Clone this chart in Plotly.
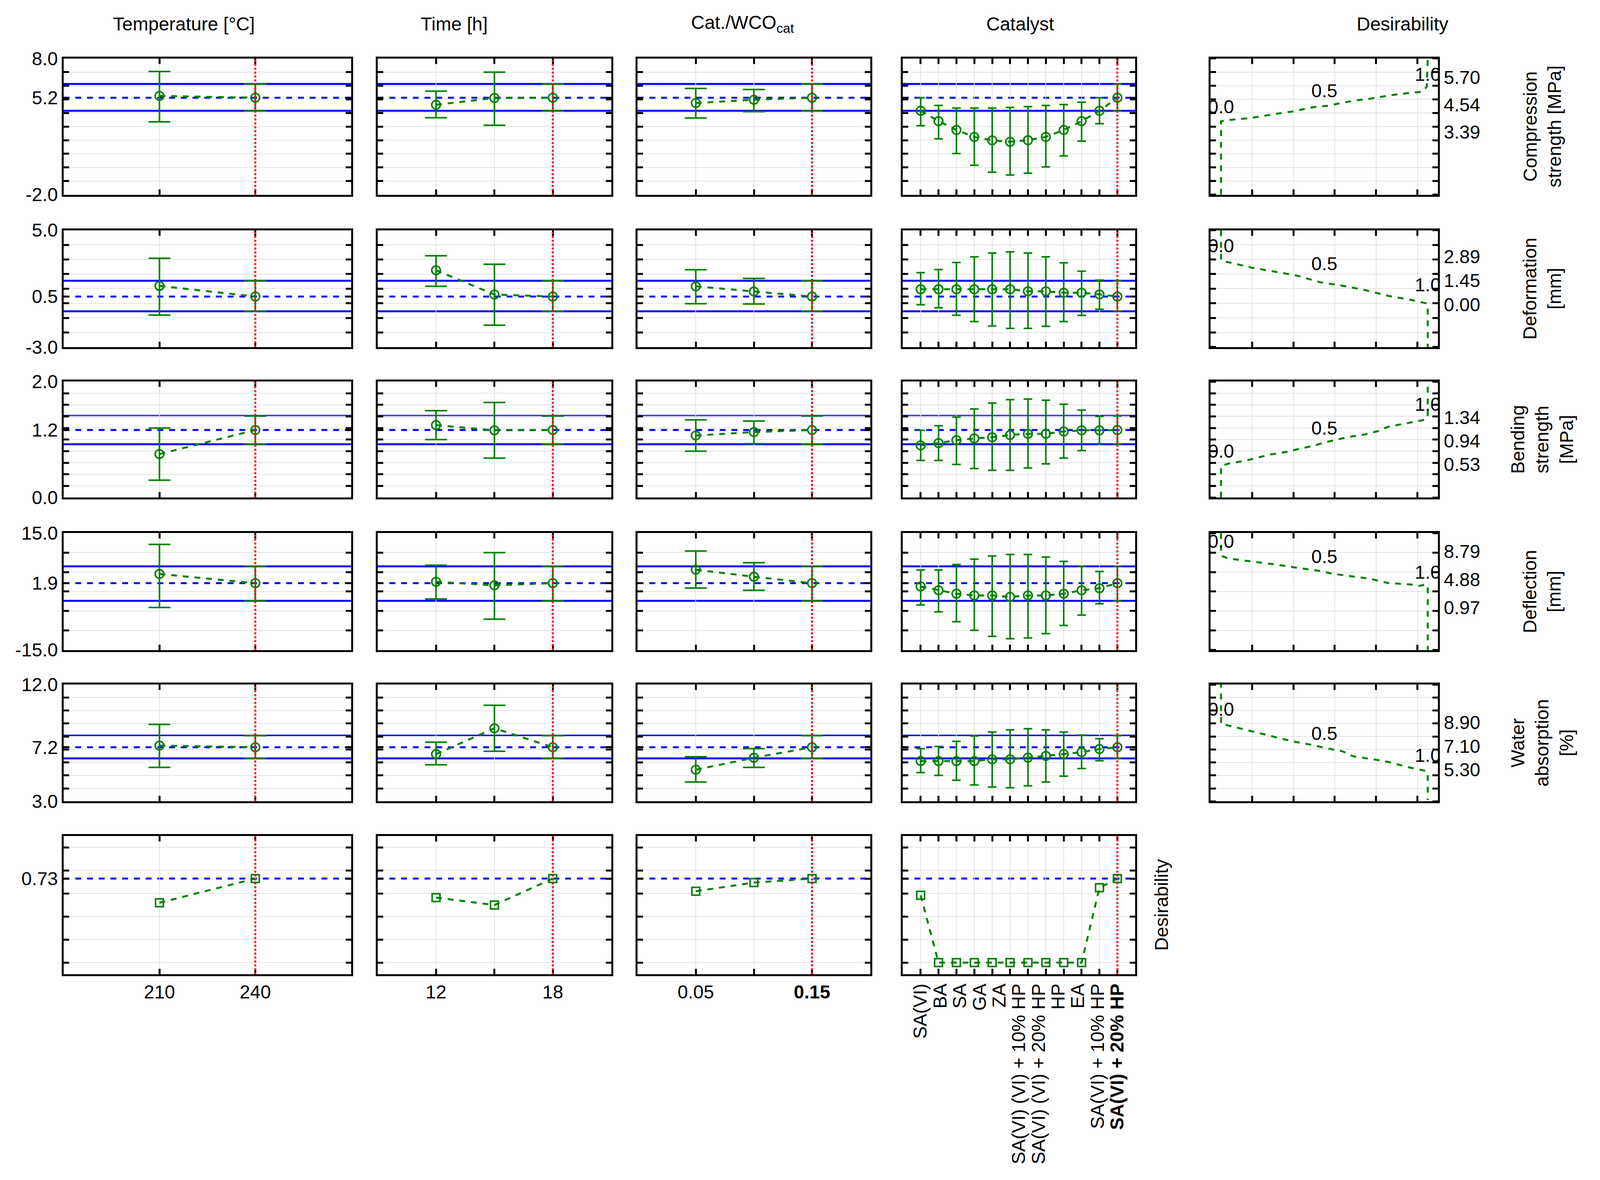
import plotly.graph_objects as go

# ---------------- data ----------------
temp_levels = [210, 240]
time_levels = [12, 15, 18]
cat_levels = [0.05, 0.10, 0.15]
catalyst_pos = list(range(1, 13))
catalyst_labels = ["SA(VI)", "BA", "SA", "GA", "ZA", "SA(VI) (VI) + 10% HP", "SA(VI) (VI) + 20% HP",
                   "HP", "EA", "SA(VI) + 10% HP", "<b>SA(VI) + 20% HP</b>"]

responses = ["Compression<br>strength [MPa]", "Deformation<br>[mm]", "Bending<br>strength<br>[MPa]",
             "Deflection<br>[mm]", "Water<br>absorption<br>[%]"]

# confidence limits at optimum (hi, pred, lo)
comp_lim = [6.13, 5.12, 4.16]
comp_temp = [5.25, 5.12]; comp_temp_hi = [7.05, 6.13]; comp_temp_lo = [3.35, 4.16]
comp_time = [4.6, 5.1, 5.12]; comp_time_hi = [5.6, 7.0, 6.13]; comp_time_lo = [3.65, 3.1, 4.16]
comp_cat = [4.73, 4.97, 5.12]; comp_cat_hi = [5.8, 5.72, 6.13]; comp_cat_lo = [3.63, 4.1, 4.16]
comp_cl = [4.16, 3.40, 2.75, 2.24, 1.99, 1.88, 2.0, 2.24, 2.75, 3.40, 4.16, 5.12]
comp_cl_hi = [5.12, 4.55, 4.36, 4.36, 4.36, 4.40, 4.47, 4.55, 4.62, 4.79, 5.12, 6.13]
comp_cl_lo = [3.06, 2.10, 1.02, 0.16, -0.35, -0.56, -0.42, 0.04, 0.85, 1.93, 3.21, 4.16]

def_lim = [1.54, 0.46, -0.55]
def_temp = [1.19, 0.46]; def_temp_hi = [3.08, 1.54]; def_temp_lo = [-0.81, -0.55]
def_time = [2.26, 0.6, 0.46]; def_time_hi = [3.25, 2.67, 1.54]; def_time_lo = [1.16, -1.5, -0.55]
def_cat = [1.16, 0.81, 0.46]; def_cat_hi = [2.3, 1.7, 1.54]; def_cat_lo = [-0.03, -0.05, -0.55]
def_cl = [0.96, 0.96, 0.96, 0.96, 0.96, 0.96, 0.82, 0.82, 0.72, 0.72, 0.61, 0.46]
def_cl_hi = [2.10, 2.31, 2.79, 3.18, 3.44, 3.52, 3.44, 3.18, 2.77, 2.20, 1.59, 1.54]
def_cl_lo = [-0.10, -0.31, -0.82, -1.25, -1.55, -1.72, -1.72, -1.58, -1.25, -0.83, -0.41, -0.55]

ben_lim = [1.41, 1.165, 0.92]
ben_temp = [0.75, 1.165]; ben_temp_hi = [1.2, 1.41]; ben_temp_lo = [0.3, 0.92]
ben_time = [1.25, 1.16, 1.165]; ben_time_hi = [1.5, 1.64, 1.41]; ben_time_lo = [1.0, 0.68, 0.92]
ben_cat = [1.07, 1.13, 1.165]; ben_cat_hi = [1.34, 1.32, 1.41]; ben_cat_lo = [0.8, 0.93, 0.92]
ben_cl = [0.90, 0.94, 0.99, 1.02, 1.04, 1.08, 1.10, 1.10, 1.14, 1.16, 1.16, 1.165]
ben_cl_hi = [1.16, 1.24, 1.39, 1.53, 1.63, 1.69, 1.70, 1.68, 1.61, 1.51, 1.40, 1.41]
ben_cl_lo = [0.64, 0.64, 0.57, 0.50, 0.47, 0.47, 0.51, 0.58, 0.68, 0.81, 0.93, 0.92]

dfl_lim = [6.45, 2.15, -2.4]
dfl_temp = [4.5, 2.15]; dfl_temp_hi = [12.1, 6.45]; dfl_temp_lo = [-4.1, -2.4]
dfl_time = [2.5, 1.6, 2.15]; dfl_time_hi = [6.75, 10.0, 6.45]; dfl_time_lo = [-1.9, -7.1, -2.4]
dfl_cat = [5.6, 3.8, 2.15]; dfl_cat_hi = [10.4, 7.4, 6.45]; dfl_cat_lo = [0.9, 0.33, -2.4]
dfl_cl = [1.30, 0.33, -0.56, -1.0, -1.0, -1.37, -1.0, -1.0, -0.56, 0.33, 0.85, 2.15]
dfl_cl_hi = [5.52, 5.52, 6.93, 8.3, 9.15, 9.52, 9.52, 8.85, 7.74, 6.41, 5.15, 6.45]
dfl_cl_lo = [-3.44, -5.22, -7.74, -9.96, -11.5, -12.1, -11.9, -10.8, -8.7, -6.04, -3.15, -2.4]

wat_lim = [8.06, 7.17, 6.31]
wat_temp = [7.3, 7.17]; wat_temp_hi = [8.93, 8.06]; wat_temp_lo = [5.62, 6.31]
wat_time = [6.64, 8.63, 7.17]; wat_time_hi = [7.56, 10.4, 8.06]; wat_time_lo = [5.82, 6.86, 6.31]
wat_cat = [5.44, 6.36, 7.17]; wat_cat_hi = [6.44, 7.06, 8.06]; wat_cat_lo = [4.49, 5.62, 6.31]
wat_cl = [6.11, 6.11, 6.11, 6.11, 6.24, 6.24, 6.37, 6.50, 6.64, 6.79, 7.03, 7.17]
wat_cl_hi = [7.06, 7.23, 7.63, 8.03, 8.34, 8.51, 8.60, 8.51, 8.34, 8.11, 7.83, 8.06]
wat_cl_lo = [5.22, 5.0, 4.63, 4.27, 4.1, 4.05, 4.2, 4.49, 4.94, 5.53, 6.13, 6.31]

des_pred = 0.73
des_temp = [0.52, 0.73]
des_time = [0.565, 0.50, 0.73]
des_cat = [0.62, 0.695, 0.73]
des_cl = [0.585, 0, 0, 0, 0, 0, 0, 0, 0, 0, 0.65, 0.73]

# desirability profiles (desirability, response value)
comp_prof_d = [0, 0, 0.035, 0.146, 0.256, 0.344, 0.443, 0.526, 0.553, 0.642, 0.719, 0.829, 0.917, 0.972, 0.995, 1.0]
comp_prof_v = [0.74, 3.84, 3.89, 3.98, 4.14, 4.25, 4.43, 4.50, 4.56, 4.71, 4.79, 4.95, 5.04, 5.08, 5.29, 6.49]
def_prof_d = [0, 0, 0.146, 0.256, 0.366, 0.476, 0.587, 0.697, 0.807, 0.917, 0.995, 1.0, 1.0]
def_prof_v = [4.46, 2.65, 2.23, 1.99, 1.75, 1.36, 1.14, 0.88, 0.54, 0.30, 0.08, 0.0, -2.53]
ben_prof_d = [0, 0, 0.035, 0.123, 0.234, 0.32, 0.366, 0.454, 0.5, 0.61, 0.697, 0.763, 0.807, 0.917, 0.983, 1.0, 1.0]
ben_prof_v = [-0.04, 0.505, 0.545, 0.60, 0.70, 0.75, 0.79, 0.86, 0.91, 1.0, 1.05, 1.11, 1.18, 1.25, 1.30, 1.34, 1.96]
dfl_prof_d = [0, 0, 0.035, 0.146, 0.256, 0.366, 0.476, 0.54, 0.64, 0.72, 0.807, 0.917, 0.956, 0.995, 1.0, 1.0]
dfl_prof_v = [11.35, 8.21, 7.81, 7.41, 7.01, 6.53, 6.09, 5.69, 5.28, 5.0, 4.4, 4.2, 4.0, 4.2, 4.0, -4.92]
wat_prof_d = [0, 0, 0.035, 0.146, 0.256, 0.344, 0.454, 0.5, 0.587, 0.64, 0.75, 0.81, 0.917, 0.995, 1.0, 1.0]
wat_prof_v = [12.0, 8.79, 8.68, 8.25, 7.81, 7.48, 7.16, 6.98, 6.72, 6.33, 6.07, 5.9, 5.46, 5.2, 5.1, 3.0]

prof_ranges = [[0.74, 6.49], [-2.53, 4.46], [-0.04, 1.96], [-4.92, 11.35], [2.9, 11.8]]
prof_ticks = [[5.70, 4.54, 3.39], [2.89, 1.45, 0.00], [1.34, 0.94, 0.53], [8.79, 4.88, 0.97], [8.90, 7.10, 5.30]]
prof_nint = [10, 8, 10, 6, 9]
prof_label_y = [[4.37, 5.05, 5.74], [3.43, 2.35, 1.09], [0.73, 1.13, 1.54], [9.94, 7.81, 5.68], [9.77, 7.95, 6.27]]

row_ranges = [[-2, 8], [-3, 5], [0, 2], [-15, 15], [3, 12], [-0.1, 1.1]]
row_dtick = [1, 1, 0.2, 5, 1, 0.2]
row_tick0 = [-2, -3, 0, -15, 3, 0]
row_tickvals = [[8, 5.12, -2], [5, 0.46, -3], [2, 1.165, 0], [15, 2.15, -15], [12, 7.17, 3], [0.73]]
row_ticktext = [["8.0", "5.2", "-2.0"], ["5.0", "0.5", "-3.0"], ["2.0", "1.2", "0.0"],
                ["15.0", "1.9", "-15.0"], ["12.0", "7.2", "3.0"], ["0.73"]]

col_titles = ["Temperature [°C]", "Time [h]", "Cat./WCO<sub>cat</sub>", "Catalyst", "Desirability"]
opt_x = [240, 18, 0.15, 12]

# ---------------- layout ----------------
FW, FH = 4100, 3005
S = 4117 / 1568.0
def px(x):  # reference display x -> paper fraction (with empirical correction)
    x = (x + 0.4) / 1.0059
    return (x * S - 8) / FW
def py(y):
    y = (y - 6.5) / 0.991
    return 1 - (y * S - 8) / FH

col_px = [(62, 344), (370, 599), (625, 853), (885, 1113), (1187, 1410)]
row_px = [(54, 188), (223, 338), (372, 486), (521, 636), (670, 785), (819, 955)]
GREEN = "#008000"; BLUE = "#0000ff"; RED = "#ff0000"
FONT = "Liberation Sans"
FS = 48

fig = go.Figure()
layout = dict(width=FW, height=FH, paper_bgcolor="white", plot_bgcolor="white",
              margin=dict(l=0, r=0, t=0, b=0), showlegend=False,
              font=dict(family=FONT, size=FS, color="black"))
shapes = []
annotations = []

tick_kw = dict(ticks="inside", ticklen=14, tickwidth=5, tickcolor="black")
grid_kw = dict(showgrid=True, gridcolor="#e3e3e3", gridwidth=2)
line_kw = dict(showline=True, linewidth=5, linecolor="black", mirror="ticks", zeroline=False)

x_major = [
    (temp_levels, ["210", "240"], [], [180, 270]),
    ([12, 18], ["12", "18"], [15], [9, 21]),
    ([0.05, 0.15], ["0.05", "<b>0.15</b>"], [0.10], [0.0, 0.2]),
    ([1 + i * 1.1 for i in range(11)], catalyst_labels, catalyst_pos, [0, 13]),
]

data_rows = [
    [(comp_temp, comp_temp_hi, comp_temp_lo), (comp_time, comp_time_hi, comp_time_lo),
     (comp_cat, comp_cat_hi, comp_cat_lo), (comp_cl, comp_cl_hi, comp_cl_lo), comp_lim],
    [(def_temp, def_temp_hi, def_temp_lo), (def_time, def_time_hi, def_time_lo),
     (def_cat, def_cat_hi, def_cat_lo), (def_cl, def_cl_hi, def_cl_lo), def_lim],
    [(ben_temp, ben_temp_hi, ben_temp_lo), (ben_time, ben_time_hi, ben_time_lo),
     (ben_cat, ben_cat_hi, ben_cat_lo), (ben_cl, ben_cl_hi, ben_cl_lo), ben_lim],
    [(dfl_temp, dfl_temp_hi, dfl_temp_lo), (dfl_time, dfl_time_hi, dfl_time_lo),
     (dfl_cat, dfl_cat_hi, dfl_cat_lo), (dfl_cl, dfl_cl_hi, dfl_cl_lo), dfl_lim],
    [(wat_temp, wat_temp_hi, wat_temp_lo), (wat_time, wat_time_hi, wat_time_lo),
     (wat_cat, wat_cat_hi, wat_cat_lo), (wat_cl, wat_cl_hi, wat_cl_lo), wat_lim],
]
profiles = [(comp_prof_d, comp_prof_v), (def_prof_d, def_prof_v), (ben_prof_d, ben_prof_v),
            (dfl_prof_d, dfl_prof_v), (wat_prof_d, wat_prof_v)]
xs_all = [temp_levels, time_levels, cat_levels, catalyst_pos]
des_all = [des_temp, des_time, des_cat, des_cl]

for r in range(6):
    for c in range(5):
        if r == 5 and c == 4:
            continue
        k = r * 5 + c + 1
        xa = "xaxis" if k == 1 else f"xaxis{k}"
        ya = "yaxis" if k == 1 else f"yaxis{k}"
        xr = "x" if k == 1 else f"x{k}"
        yr = "y" if k == 1 else f"y{k}"
        x0, x1 = col_px[c]; y0, y1 = row_px[r]
        xd = [px(x0), px(x1)]; yd = [py(y1), py(y0)]
        if c < 4:
            tv, tt, mv, rng = x_major[c]
            xcfg = dict(line_kw, **tick_kw, **grid_kw, domain=xd, anchor=yr, range=rng,
                        tickmode="array", tickvals=tv, ticktext=tt,
                        showticklabels=(r == 5), tickfont=dict(size=FS))
            if mv:
                xcfg["minor"] = dict(tickmode="array", tickvals=mv, **tick_kw, **grid_kw)
            if c == 3:
                xcfg["tickangle"] = -90
                xcfg["ticks"] = ""
                xcfg["showgrid"] = False
            ycfg = dict(line_kw, **tick_kw, domain=yd, anchor=xr, range=row_ranges[r], tickmode="array",
                        tickvals=row_tickvals[r], ticktext=row_ticktext[r],
                        showticklabels=(c == 0), showgrid=False,
                        minor=dict(tickmode="linear", tick0=row_tick0[r], dtick=row_dtick[r],
                                   **tick_kw, **grid_kw))
            layout[xa] = xcfg; layout[ya] = ycfg
            xs = xs_all[c]
            if r < 5:
                vals, hi, lo = data_rows[r][c]
                lim = data_rows[r][4]
                for yy, dash in [(lim[0], "solid"), (lim[1], "dash"), (lim[2], "solid")]:
                    shapes.append(dict(type="line", xref=f"{xr} domain", yref=yr, x0=0, x1=1, y0=yy, y1=yy,
                                       line=dict(color=BLUE, width=5, dash=dash), layer="below"))
                fig.add_trace(go.Scatter(
                    x=xs, y=vals, xaxis=xr, yaxis=yr, mode="lines+markers",
                    line=dict(color=GREEN, width=5, dash="dash"),
                    marker=dict(symbol="circle-open", size=22, color=GREEN, line=dict(width=4)),
                    error_y=dict(type="data", symmetric=False,
                                 array=[h - v for h, v in zip(hi, vals)],
                                 arrayminus=[v - l for v, l in zip(vals, lo)],
                                 color=GREEN, thickness=4, width=(28 if c < 3 else 11))))
            else:
                shapes.append(dict(type="line", xref=f"{xr} domain", yref=yr, x0=0, x1=1, y0=des_pred, y1=des_pred,
                                   line=dict(color=BLUE, width=5, dash="dash"), layer="below"))
                fig.add_trace(go.Scatter(
                    x=xs, y=des_all[c], xaxis=xr, yaxis=yr, mode="lines+markers",
                    line=dict(color=GREEN, width=5, dash="dash"),
                    marker=dict(symbol="square-open", size=20, color=GREEN, line=dict(width=4))))
            shapes.append(dict(type="line", xref=xr, yref=f"{yr} domain", x0=opt_x[c], x1=opt_x[c], y0=0, y1=1,
                               line=dict(color=RED, width=5, dash="dot"), layer="above"))
        else:
            rng = prof_ranges[r]
            xcfg = dict(line_kw, **tick_kw, **grid_kw, domain=xd, anchor=yr, range=[-0.05, 1.05],
                        tickmode="linear", tick0=-0.05, dtick=0.2, showticklabels=False)
            ycfg = dict(line_kw, domain=yd, anchor=xr, range=rng, side="right", tickmode="array",
                        tickvals=prof_ticks[r], ticktext=[f"{v:.2f}" for v in prof_ticks[r]],
                        ticks="", showgrid=False, tickfont=dict(size=FS),
                        minor=dict(tickmode="linear", tick0=rng[0], dtick=(rng[1] - rng[0]) / prof_nint[r],
                                   **tick_kw, **grid_kw))
            layout[xa] = xcfg; layout[ya] = ycfg
            d, v = profiles[r]
            fig.add_trace(go.Scatter(x=d, y=v, xaxis=xr, yaxis=yr, mode="lines",
                                     line=dict(color=GREEN, width=5, dash="dash")))
            fig.add_trace(go.Scatter(x=[0.0, 0.5, 1.0], y=prof_label_y[r], xaxis=xr, yaxis=yr,
                                     mode="text", text=["0.0", "0.5", "1.0"], cliponaxis=True,
                                     textfont=dict(size=FS, color="black")))
            annotations.append(dict(text=responses[r], textangle=-90, xref="paper", yref="paper",
                                    x=px(1512), y=py((y0 + y1) / 2), xanchor="center", yanchor="middle",
                                    showarrow=False, font=dict(size=FS), align="center"))

title_x = [180, 445, 728, 1000, 1375]
for t, x in zip(col_titles, title_x):
    annotations.append(dict(text=t, xref="paper", yref="paper", x=px(x), y=py(20),
                            xanchor="center", yanchor="middle", showarrow=False, font=dict(size=FS)))
annotations.append(dict(text="Desirability", textangle=-90, xref="paper", yref="paper",
                        x=px(1139), y=py(887), xanchor="center", yanchor="middle",
                        showarrow=False, font=dict(size=FS)))

layout["shapes"] = shapes
layout["annotations"] = annotations
fig.update_layout(**layout)
fig.write_html("out.html")
